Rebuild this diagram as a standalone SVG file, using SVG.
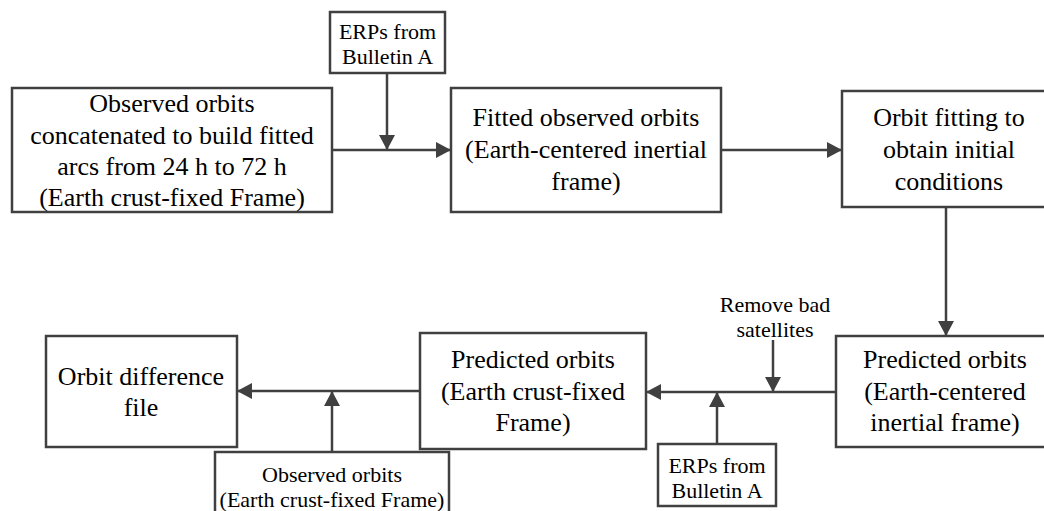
<svg xmlns="http://www.w3.org/2000/svg" width="1044" height="511" viewBox="0 0 1044 511">
<style>
.box{fill:#fff;stroke:#404040;stroke-width:2.5}
.ln{fill:none;stroke:#404040;stroke-width:2.5}
text{font-family:'Liberation Serif','Times New Roman',serif;fill:#000;text-anchor:middle}
.t{font-size:26px}
.s{font-size:22px}
</style>
<defs>
<marker id="ah" markerUnits="userSpaceOnUse" markerWidth="15" markerHeight="16" refX="14" refY="8" orient="auto">
<path d="M0,0 L15,8 L0,16 z" fill="#404040"/>
</marker>
</defs>
<g id="connectors">
<path class="ln" d="M387,73 V149" marker-end="url(#ah)"/>
<path class="ln" d="M332,150 H450" marker-end="url(#ah)"/>
<path class="ln" d="M721,150 H841" marker-end="url(#ah)"/>
<path class="ln" d="M946,207 V335" marker-end="url(#ah)"/>
<path class="ln" d="M773,340 V391" marker-end="url(#ah)"/>
<path class="ln" d="M836,392 H647" marker-end="url(#ah)"/>
<path class="ln" d="M717,444 V393" marker-end="url(#ah)"/>
<path class="ln" d="M420,391 H238" marker-end="url(#ah)"/>
<path class="ln" d="M332,452 V392" marker-end="url(#ah)"/>
</g>
<g id="erp-top">
<rect class="box" x="330" y="12" width="115" height="61"/>
<text class="s" x="387.5" y="38.5">ERPs from</text>
<text class="s" x="387.5" y="63.5">Bulletin A</text>
</g>
<g id="observed-concat">
<rect class="box" x="12" y="88" width="320" height="124"/>
<text class="t" x="172" y="112">Observed orbits</text>
<text class="t" x="172" y="143.5">concatenated to build fitted</text>
<text class="t" x="172" y="175">arcs from 24 h to 72 h</text>
<text class="t" x="172" y="206">(Earth crust-fixed Frame)</text>
</g>
<g id="fitted-observed">
<rect class="box" x="451" y="88" width="270" height="124"/>
<text class="t" x="586" y="126">Fitted observed orbits</text>
<text class="t" x="586" y="158">(Earth-centered inertial</text>
<text class="t" x="586" y="190">frame)</text>
</g>
<g id="orbit-fitting">
<rect class="box" x="842" y="91" width="214" height="116"/>
<text class="t" x="949" y="126">Orbit fitting to</text>
<text class="t" x="949" y="158">obtain initial</text>
<text class="t" x="949" y="190">conditions</text>
</g>
<g id="predicted-eci">
<rect class="box" x="836" y="336" width="220" height="111"/>
<text class="t" x="945" y="368">Predicted orbits</text>
<text class="t" x="945" y="400">(Earth-centered</text>
<text class="t" x="945" y="431">inertial frame)</text>
</g>
<g id="remove-bad">
<text class="s" x="775" y="312">Remove bad</text>
<text class="s" x="775" y="337">satellites</text>
</g>
<g id="erp-bottom">
<rect class="box" x="658" y="444" width="118" height="62"/>
<text class="s" x="717" y="473">ERPs from</text>
<text class="s" x="717" y="498">Bulletin A</text>
</g>
<g id="predicted-ecef">
<rect class="box" x="420" y="333" width="226" height="116"/>
<text class="t" x="533" y="368">Predicted orbits</text>
<text class="t" x="533" y="400">(Earth crust-fixed</text>
<text class="t" x="533" y="431">Frame)</text>
</g>
<g id="orbit-difference">
<rect class="box" x="46" y="336" width="191" height="111"/>
<text class="t" x="141" y="385">Orbit difference</text>
<text class="t" x="141" y="416">file</text>
</g>
<g id="observed-ecef">
<rect class="box" x="215" y="452" width="234" height="80"/>
<text class="s" x="332" y="482">Observed orbits</text>
<text class="s" x="332" y="507">(Earth crust-fixed Frame)</text>
</g>
</svg>
